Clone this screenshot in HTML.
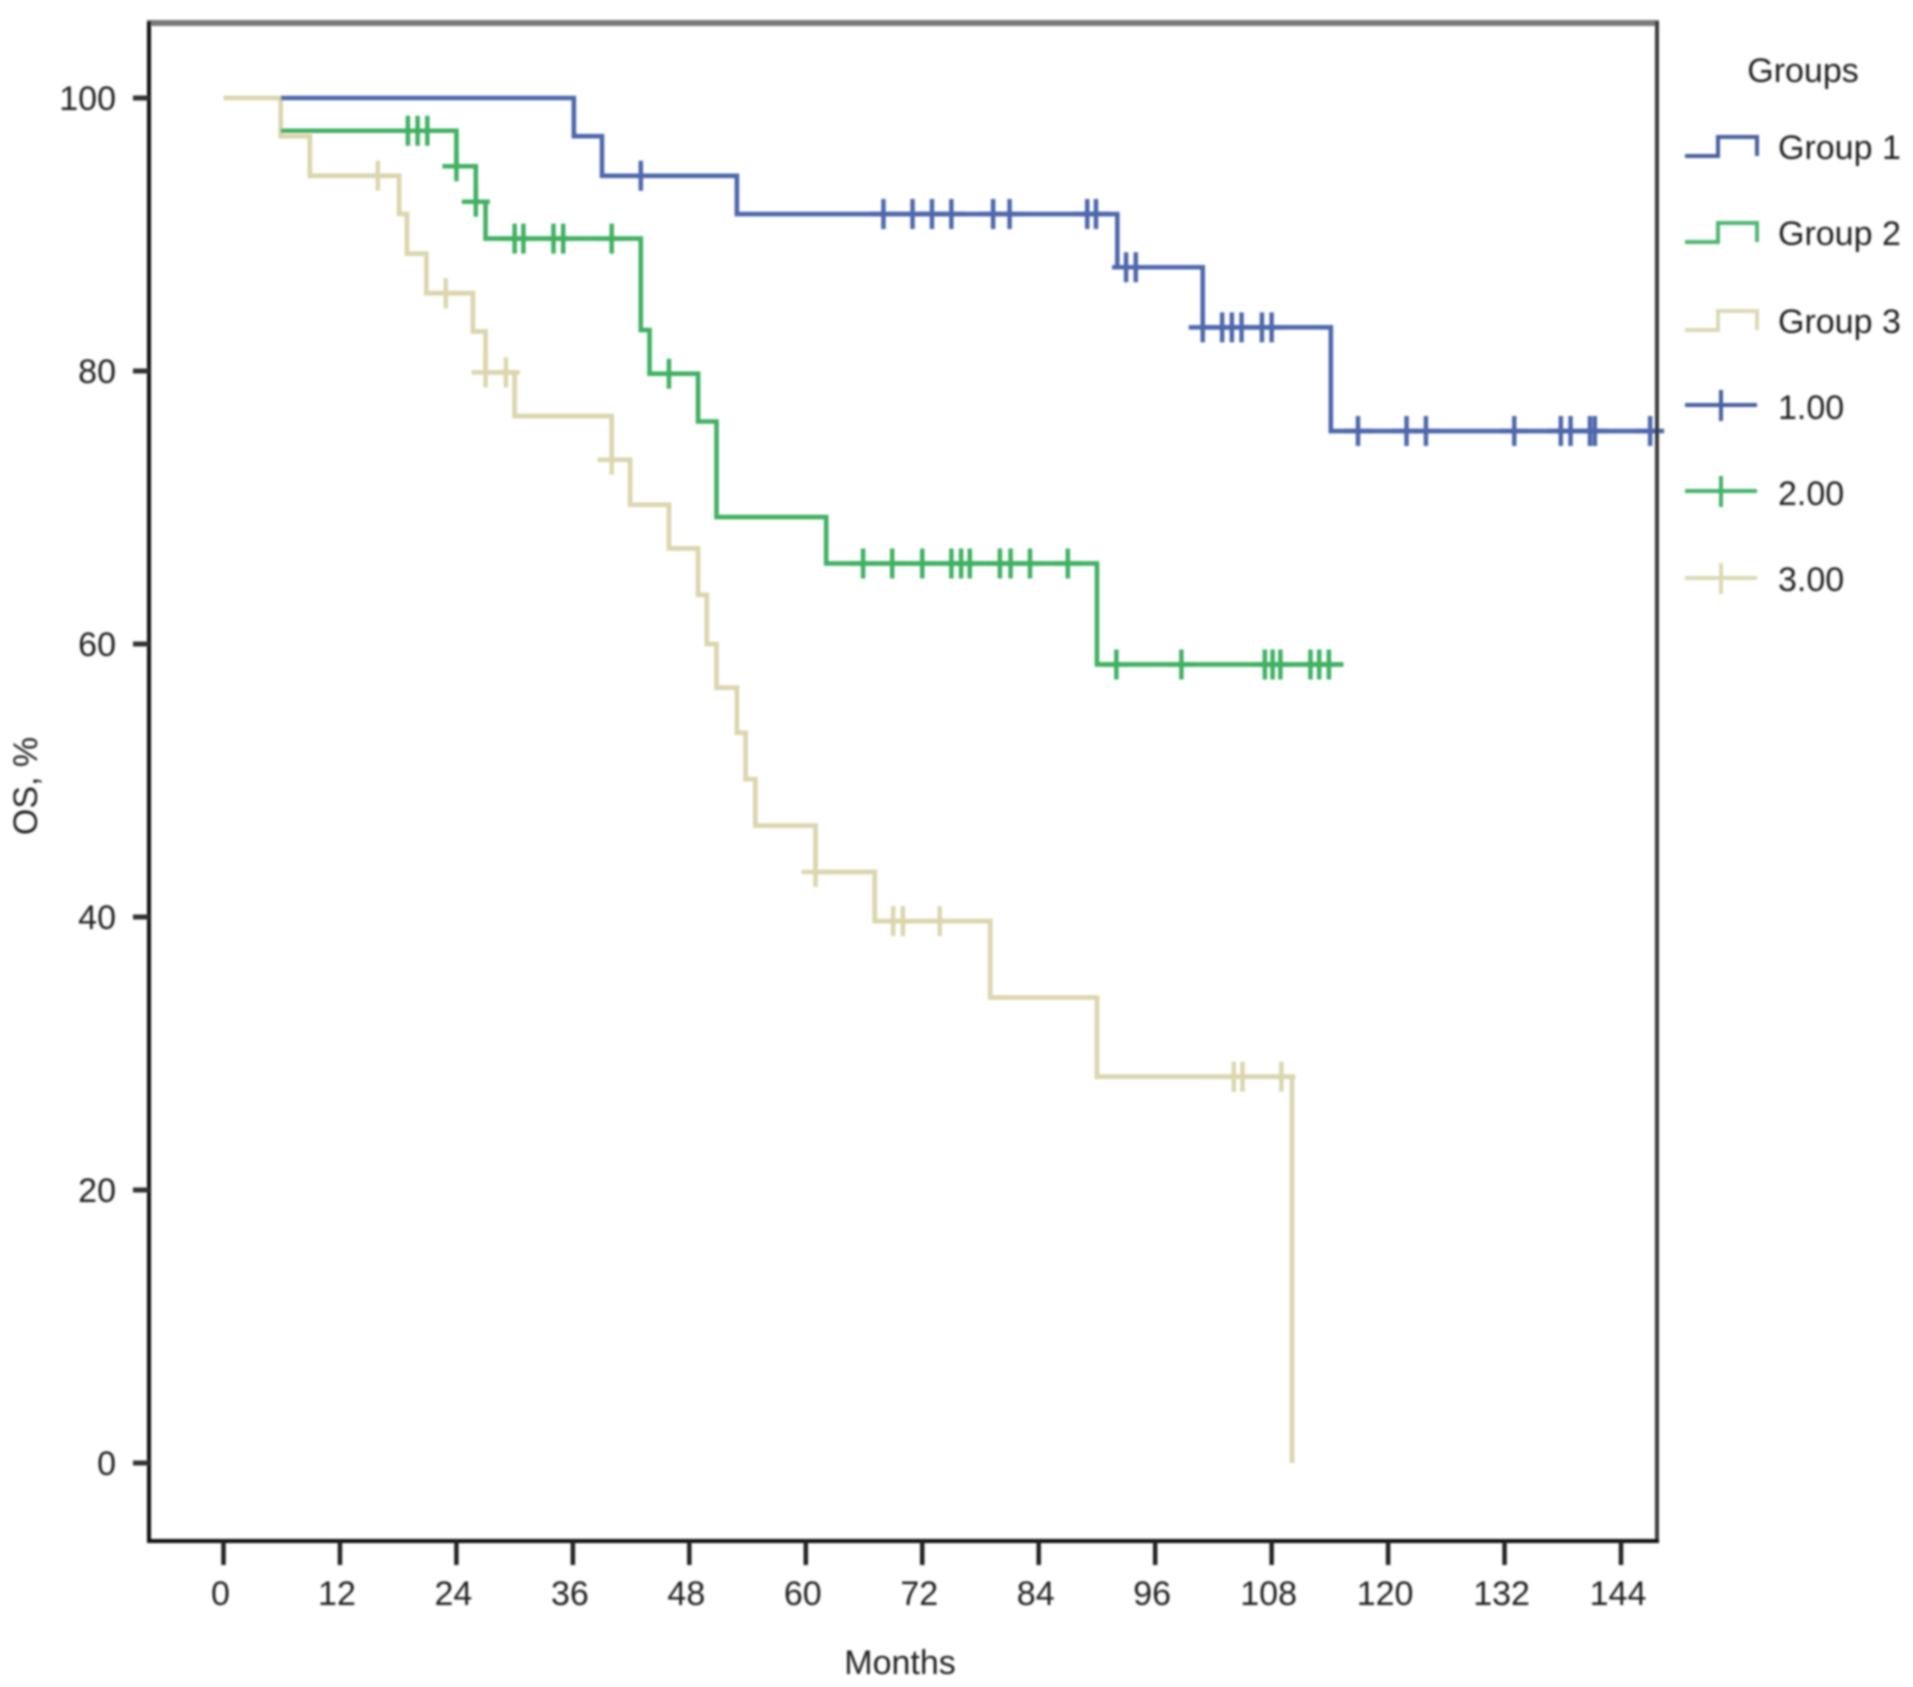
<!DOCTYPE html>
<html lang="en">
<head>
<meta charset="utf-8">
<title>Kaplan-Meier overall survival</title>
<style>
html,body{margin:0;padding:0;background:#fff;width:1913px;height:1687px;overflow:hidden}
svg{display:block}
text{font-family:"Liberation Sans",Arial,sans-serif;font-size:34px;fill:#222}
</style>
</head>
<body>
<svg id="chart" width="1913" height="1687" viewBox="0 0 1913 1687" xmlns="http://www.w3.org/2000/svg">
  <defs>
    <filter id="soft" x="-5%" y="-5%" width="110%" height="110%"><feGaussianBlur stdDeviation="1"/></filter>
  </defs>
  <rect width="1913" height="1687" fill="#fff"/>
  <g id="root" filter="url(#soft)">
    <g id="series"></g>
    <g id="axes">
      <line x1="147" y1="23" x2="1659" y2="23" stroke="#7a7a7a" stroke-width="6"/>
      <line x1="149" y1="21" x2="149" y2="1543" stroke="#111" stroke-width="4"/>
      <line x1="1657" y1="21" x2="1657" y2="1543" stroke="#3a3a3a" stroke-width="4"/>
      <line x1="147" y1="1541" x2="1659" y2="1541" stroke="#111" stroke-width="4"/>
    </g>
    <text x="900" y="1674" text-anchor="middle">Months</text>
    <text transform="translate(37,786) rotate(-90)" text-anchor="middle">OS, %</text>
    <g id="legend">
      <text x="1803" y="82" text-anchor="middle">Groups</text>
      <text x="1778" y="159">Group 1</text>
      <text x="1778" y="245">Group 2</text>
      <text x="1778" y="333">Group 3</text>
      <text x="1778" y="419">1.00</text>
      <text x="1778" y="505">2.00</text>
      <text x="1778" y="591">3.00</text>
      <path d="M1688 156H1721V137H1760V156" fill="none" stroke="#46609f" stroke-width="4" transform="translate(-3,0)"/>
      <path d="M1688 242H1721V223H1760V242" fill="none" stroke="#4fb673" stroke-width="4" transform="translate(-3,0)"/>
      <path d="M1688 330H1721V311H1760V330" fill="none" stroke="#dcd8b4" stroke-width="4" transform="translate(-3,0)"/>
      <path d="M1688 405H1760M1724 390V421" fill="none" stroke="#46609f" stroke-width="4" transform="translate(-3,0)"/>
      <path d="M1688 491H1760M1724 476V507" fill="none" stroke="#45b16b" stroke-width="4" transform="translate(-3,0)"/>
      <path d="M1688 578H1760M1724 563V594" fill="none" stroke="#dcd8b4" stroke-width="4" transform="translate(-3,0)"/>
    </g>
  </g>
</svg>
<script>
// Tick labels
const xTickMonths = [0, 12, 24, 36, 48, 60, 72, 84, 96, 108, 120, 132, 144];
const yTickValues = [0, 20, 40, 60, 80, 100];

// Group 1: step start times (months) and survival (%) after each step
const group1Times = [5.9, 36.1, 39, 52.9, 92.1, 100.9, 114.1];
const group1Surv = [100, 97.2, 94.3, 91.5, 87.6, 83.2, 75.6];
const group1End = 148;
const group1Censor = [43, 68, 71, 73, 75, 79.3, 81, 89, 89.9, 93, 94, 100.9, 102.9, 103.9, 104.9, 107, 108, 116.9, 121.9, 123.9, 133, 137.8, 138.8, 140.8, 141.3, 147];

// Group 2
const group2Times = [5.9, 24, 26, 27, 43, 43.9, 48.9, 50.8, 62.1, 90];
const group2Surv = [97.6, 95, 92.4, 89.7, 83, 79.8, 76.3, 69.3, 65.9, 58.5];
const group2End = 115.4;
const group2Censor = [19, 20, 21, 24, 26, 30, 30.9, 34, 35, 40, 45.9, 65.9, 68.9, 72, 75, 76, 76.9, 80, 81.1, 83.1, 87, 92, 98.7, 107.3, 108.1, 108.9, 112, 112.9, 113.9];

// Group 3
const group3Times = [0, 5.9, 8.9, 18.1, 18.9, 20.9, 25.7, 27, 30, 40, 41.9, 45.9, 48.9, 49.8, 50.8, 52.9, 53.8, 54.8, 61, 67.1, 79, 90, 110.1];
const group3Surv = [100, 97.2, 94.3, 91.5, 88.6, 85.7, 82.9, 79.9, 76.7, 73.5, 70.2, 67, 63.6, 60, 56.8, 53.5, 50.1, 46.7, 43.3, 39.7, 34.1, 28.3, 0];
const group3End = 110.1;
const group3Censor = [15.9, 22.9, 27, 29.1, 40, 61, 69, 70, 73.8, 104.1, 105, 109];

const plotX0 = 223.5, plotXPerMonth = 9.705, plotY100 = 98, plotY0 = 1463;
function xScale(m) { return plotX0 + m * plotXPerMonth; }
function yScale(v) { return plotY0 + (plotY100 - plotY0) * v / 100; }
function survivalAt(times, surv, t) {
  let s = surv[0];
  for (let i = 0; i < times.length; i++) { if (t >= times[i]) s = surv[i]; }
  return s;
}
const NS = 'http://www.w3.org/2000/svg';
const seriesG = document.getElementById('series');
const axesG = document.getElementById('axes');

function drawGroup(times, surv, end, censor, color, width, key) {
  let d = 'M' + xScale(times[0]) + ' ' + yScale(surv[0]);
  for (let i = 1; i < times.length; i++) {
    d += 'H' + xScale(times[i]) + 'V' + yScale(surv[i]);
  }
  d += 'H' + xScale(end);
  const line = document.createElementNS(NS, 'path');
  line.setAttribute('d', d);
  line.setAttribute('fill', 'none');
  line.setAttribute('stroke', color);
  line.setAttribute('stroke-width', width);
  
  
  seriesG.appendChild(line);
  censor.forEach(function (t) {
    const cx = xScale(t), cy = yScale(survivalAt(times, surv, t));
    const mark = document.createElementNS(NS, 'path');
    mark.setAttribute('d', 'M' + (cx - 14) + ' ' + cy + 'H' + (cx + 14) + 'M' + cx + ' ' + (cy - 15) + 'V' + (cy + 15));
    mark.setAttribute('fill', 'none');
    mark.setAttribute('stroke', color);
    mark.setAttribute('stroke-width', 4.5);
    
    
    seriesG.appendChild(mark);
  });
}
drawGroup(group3Times, group3Surv, group3End, group3Censor, '#dbd6ae', 4.8, 'group-3');
drawGroup(group2Times, group2Surv, group2End, group2Censor, '#3fb062', 4.6, 'group-2');
drawGroup(group1Times, group1Surv, group1End, group1Censor, '#4d67ac', 4.6, 'group-1');

xTickMonths.forEach(function (m) {
  const tick = document.createElementNS(NS, 'line');
  tick.setAttribute('x1', xScale(m));
  tick.setAttribute('x2', xScale(m));
  tick.setAttribute('y1', 1541);
  tick.setAttribute('y2', 1565);
  tick.setAttribute('stroke', '#222');
  tick.setAttribute('stroke-width', 4.5);
  
  
  axesG.appendChild(tick);
  const label = document.createElementNS(NS, 'text');
  label.setAttribute('x', xScale(m) - 3);
  label.setAttribute('y', 1605);
  label.setAttribute('text-anchor', 'middle');
  
  
  label.textContent = m;
  axesG.appendChild(label);
});
yTickValues.forEach(function (v) {
  const tick = document.createElementNS(NS, 'line');
  tick.setAttribute('x1', 133);
  tick.setAttribute('x2', 149);
  tick.setAttribute('y1', yScale(v));
  tick.setAttribute('y2', yScale(v));
  tick.setAttribute('stroke', '#333');
  tick.setAttribute('stroke-width', 5);
  
  
  axesG.appendChild(tick);
  const label = document.createElementNS(NS, 'text');
  label.setAttribute('x', 116);
  label.setAttribute('y', yScale(v) + 12);
  label.setAttribute('text-anchor', 'end');
  
  
  label.textContent = v;
  axesG.appendChild(label);
});
</script>
</body>
</html>
